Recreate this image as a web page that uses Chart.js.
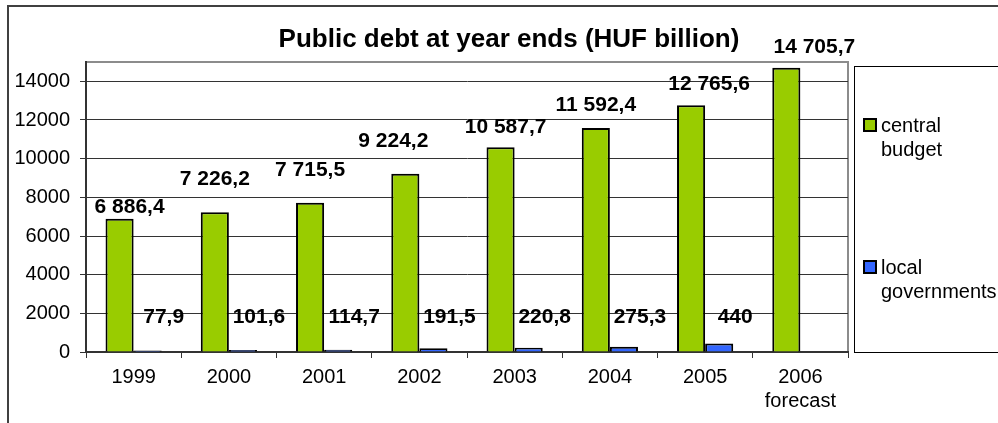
<!DOCTYPE html>
<html>
<head>
<meta charset="utf-8">
<script src="https://cdn.jsdelivr.net/npm/chart.js@4.4.1/dist/chart.umd.min.js"></script>
<style>
	html, body { margin: 0; padding: 0; background: #fff; }
	#wrap { width: 998px; height: 423px; }
</style>
</head>
<body>
<div id="wrap"><canvas id="myChart" width="998" height="423"></canvas></div>
<script>
const years = ['1999', '2000', '2001', '2002', '2003', '2004', '2005', ['2006', 'forecast']]
const centralBudget = [6886.4, 7226.2, 7715.5, 9224.2, 10587.7, 11592.4, 12765.6, 14705.7]
const localGovernments = [77.9, 101.6, 114.7, 191.5, 220.8, 275.3, 440, null]
const yTicks = [0, 2000, 4000, 6000, 8000, 10000, 12000, 14000]

const FONT = "'Liberation Sans', Arial, sans-serif"

// 6886.4 -> "6 886,4"
const huFormat = (v) => {
	const [int, dec] = String(v).split('.')
	const grouped = int.replace(/\B(?=(\d{3})+(?!\d))/g, ' ')
	return dec ? grouped + ',' + dec : grouped
}

// outer frame, plot border, title, value labels and legend box
const decorations = {
	id: 'decorations',
	beforeDraw(chart) {
		const { ctx, chartArea: a } = chart
		ctx.save()
		ctx.strokeStyle = '#404040'
		ctx.lineWidth = 2
		ctx.strokeRect(8, 6, 1020, 440)
		ctx.strokeStyle = '#8c8c8c'
		ctx.beginPath()
		ctx.moveTo(a.left, a.top)
		ctx.lineTo(a.right, a.top)
		ctx.lineTo(a.right, a.bottom)
		ctx.stroke()
		ctx.restore()
	},
	afterDatasetsDraw(chart, args, opts) {
		const { ctx, chartArea: a } = chart
		ctx.save()
		ctx.fillStyle = '#000'
		ctx.font = 'bold 26px ' + FONT
		ctx.textAlign = 'center'
		ctx.textBaseline = 'middle'
		ctx.fillText(chart.options.plugins.title.text, 509, 40)

		// value labels, hand-placed the way they sit on the slide
		ctx.font = 'bold 21px ' + FONT
		chart.getDatasetMeta(0).data.forEach((bar, i) => {
			const [dx, dy] = opts.greenNudge[i]
			ctx.fillText(huFormat(centralBudget[i]), bar.x + dx, bar.y + dy)
		})
		const labelY = chart.scales.y.getPixelForValue(1820)
		chart.getDatasetMeta(1).data.forEach((bar, i) => {
			if (localGovernments[i] == null) return
			ctx.fillText(huFormat(localGovernments[i]), bar.x + 16, labelY)
		})

		// legend
		const lx = a.right + 6
		ctx.strokeStyle = '#000'
		ctx.lineWidth = 1
		ctx.strokeRect(lx + 0.5, a.top + 4.5, 200, a.bottom - a.top - 4)
		ctx.font = '20px ' + FONT
		ctx.textAlign = 'left'
		const rows = [[125, ['central', 'budget']], [267, ['local', 'governments']]]
		chart.data.datasets.forEach((ds, i) => {
			const [cy, lines] = rows[i]
			ctx.fillStyle = ds.backgroundColor
			ctx.fillRect(lx + 10, cy - 6, 12, 12)
			ctx.lineWidth = 2
			ctx.strokeRect(lx + 10, cy - 6, 12, 12)
			ctx.fillStyle = '#000'
			lines.forEach((t, j) => ctx.fillText(t, lx + 27, cy + 1 + j * 24))
		})
		ctx.restore()
	},
}

const ctx = document.getElementById('myChart').getContext('2d')
const myChart = new Chart(ctx, {
	type: 'bar',
	data: {
		labels: years,
		datasets: [
			{
				label: 'central budget',
				data: centralBudget,
				backgroundColor: '#99cc00',
				borderColor: '#000',
				borderWidth: 2,
			},
			{
				label: 'local governments',
				data: localGovernments,
				backgroundColor: '#3366ff',
				borderColor: '#000',
				borderWidth: 2,
			},
		],
	},
	options: {
		responsive: false,
		animation: false,
		layout: { padding: { top: 62, right: 150, left: 0, bottom: 0 } },
		datasets: { bar: { barPercentage: 1, categoryPercentage: 0.59 } },
		plugins: {
			legend: { display: false },
			tooltip: { enabled: false },
			title: { display: false, text: 'Public debt at year ends (HUF billion)' },
			decorations: {
				greenNudge: [[10, -12], [0, -33], [0, -33], [-12, -32], [5, -20], [0, -23], [18, -21], [28, -20]],
			},
		},
		scales: {
			x: {
				offset: true,
				grid: { offset: true, drawOnChartArea: false, color: '#333', tickLength: 6 },
				border: { color: '#333', width: 2 },
				ticks: { color: '#000', font: { family: FONT, size: 20 }, padding: 7, maxRotation: 0 },
				afterFit: (s) => { s.height = 71 },
			},
			y: {
				min: 0,
				max: 15000,
				afterBuildTicks: (s) => { s.ticks = yTicks.map((v) => ({ value: v })) },
				grid: { color: '#333', tickLength: 6 },
				border: { color: '#333', width: 2 },
				ticks: { color: '#000', font: { family: FONT, size: 20 }, padding: 10, callback: (v) => String(v) },
				afterFit: (s) => { s.width = 86 },
			},
		},
	},
	plugins: [decorations],
})
</script>
</body>
</html>
